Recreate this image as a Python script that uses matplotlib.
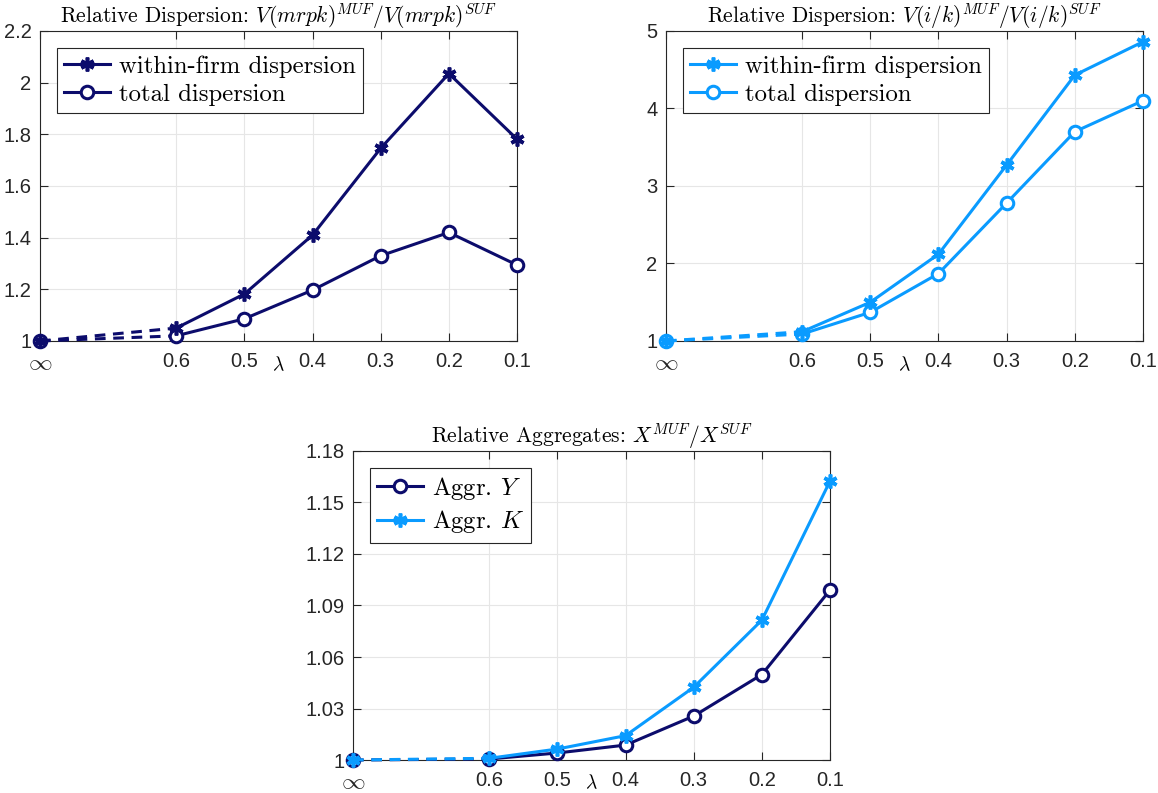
import numpy as np
import matplotlib.pyplot as plt

plt.rcParams['mathtext.fontset'] = 'cm'

# lambda values; infinity is drawn two steps left of 0.6
lam_labels = [r'$\infty$', '0.6', '0.5', '0.4', '0.3', '0.2', '0.1']
lam_pos = [0.8, 0.6, 0.5, 0.4, 0.3, 0.2, 0.1]

# relative dispersion of mrpk
mrpk_within = [1.0, 1.05, 1.182, 1.41, 1.746, 2.035, 1.781]
mrpk_total = [1.0, 1.02, 1.086, 1.197, 1.33, 1.42, 1.294]

# relative dispersion of i/k
ik_within = [1.0, 1.12, 1.50, 2.12, 3.27, 4.43, 4.86]
ik_total = [1.0, 1.09, 1.37, 1.87, 2.78, 3.70, 4.10]

# relative aggregates
agg_Y = [1.0, 1.0006, 1.0041, 1.0087, 1.0256, 1.0498, 1.0990]
agg_K = [1.0, 1.0010, 1.0064, 1.0142, 1.0424, 1.0815, 1.1625]

navy = '#0c0c6c'
lblue = '#0a9bff'
serif = 'cmr10'
LW = 2.2


def marker_style(marker, color):
    if marker == 'o':
        return dict(marker='o', ms=9, mew=LW, mfc='white', mec=color)
    return dict(marker=(6, 2, 0), ms=10, mew=LW + 0.4, mfc=color, mec=color)


def draw_series(ax, y, color, marker, label, z):
    x = np.array(lam_pos)
    y = np.array(y)
    ax.plot(x[:2], y[:2], color=color, lw=LW, ls=(0, (3.5, 2.5)), zorder=z,
            clip_on=False)
    ax.plot(x[1:], y[1:], color=color, lw=LW, zorder=z, clip_on=False)
    ax.plot(x, y, ls='none', zorder=z + 0.5, clip_on=False,
            **marker_style(marker, color))
    if label:
        ax.plot([], [], color=color, lw=LW, label=label,
                **marker_style(marker, color))


def style_axes(ax, ylim, yticks, yticklabels, title):
    ax.set_xlim(0.8, 0.1)
    ax.set_ylim(*ylim)
    ax.set_xticks(lam_pos)
    ax.set_xticklabels(lam_labels)
    ax.set_yticks(yticks)
    ax.set_yticklabels(yticklabels)
    ax.tick_params(direction='in', length=6, width=0.8, top=True, right=True,
                   labelsize=14.5, colors='#262626')
    ax.tick_params(axis='x', pad=8)
    ax.tick_params(axis='y', pad=6)
    for lbl in ax.get_xticklabels() + ax.get_yticklabels():
        lbl.set_family('Liberation Sans')
    ax.get_xticklabels()[0].set_fontsize(17)
    ax.grid(True, color='#e6e6e6', lw=0.8)
    ax.set_axisbelow(True)
    for s in ax.spines.values():
        s.set_color('#262626')
        s.set_linewidth(0.8)
    ax.set_title(title, fontsize=15.5, family=serif, pad=6)
    ax.text(0.5, -0.075, r'$\lambda$', transform=ax.transAxes, ha='center',
            va='center', fontsize=14)
    leg = ax.legend(loc='upper left', bbox_to_anchor=(0.02, 0.97),
                    prop={'family': serif, 'size': 17.8}, fancybox=False,
                    framealpha=1, edgecolor='#262626', handlelength=1.85,
                    handletextpad=0.35, borderpad=0.3, labelspacing=0.25,
                    borderaxespad=0.3)
    leg.get_frame().set_linewidth(0.8)


fig = plt.figure(figsize=(11.58, 7.93), dpi=100)
ax1 = fig.add_axes([0.0345, 0.570, 0.412, 0.391])
ax2 = fig.add_axes([0.575, 0.570, 0.412, 0.391])
ax3 = fig.add_axes([0.3048, 0.0416, 0.412, 0.3897])

draw_series(ax1, mrpk_total, navy, 'o', None, 3)
draw_series(ax1, mrpk_within, navy, '*', None, 4)
ax1.plot([], [], color=navy, lw=LW, label='within-firm dispersion', **marker_style('*', navy))
ax1.plot([], [], color=navy, lw=LW, label='total dispersion', **marker_style('o', navy))
style_axes(ax1, (1, 2.2), [1, 1.2, 1.4, 1.6, 1.8, 2, 2.2],
           ['1', '1.2', '1.4', '1.6', '1.8', '2', '2.2'],
           r'Relative Dispersion: $V(mrpk)^{MUF}/V(mrpk)^{SUF}$')

draw_series(ax2, ik_total, lblue, 'o', None, 3)
draw_series(ax2, ik_within, lblue, '*', None, 4)
ax2.plot([], [], color=lblue, lw=LW, label='within-firm dispersion', **marker_style('*', lblue))
ax2.plot([], [], color=lblue, lw=LW, label='total dispersion', **marker_style('o', lblue))
style_axes(ax2, (1, 5), [1, 2, 3, 4, 5], ['1', '2', '3', '4', '5'],
           r'Relative Dispersion: $V(i/k)^{MUF}/V(i/k)^{SUF}$')

draw_series(ax3, agg_Y, navy, 'o', 'Aggr. $Y$', 3)
draw_series(ax3, agg_K, lblue, '*', 'Aggr. $K$', 4)
style_axes(ax3, (1, 1.18), [1, 1.03, 1.06, 1.09, 1.12, 1.15, 1.18],
           ['1', '1.03', '1.06', '1.09', '1.12', '1.15', '1.18'],
           r'Relative Aggregates: $X^{MUF}/X^{SUF}$')

fig.savefig('out.png', dpi=100)
